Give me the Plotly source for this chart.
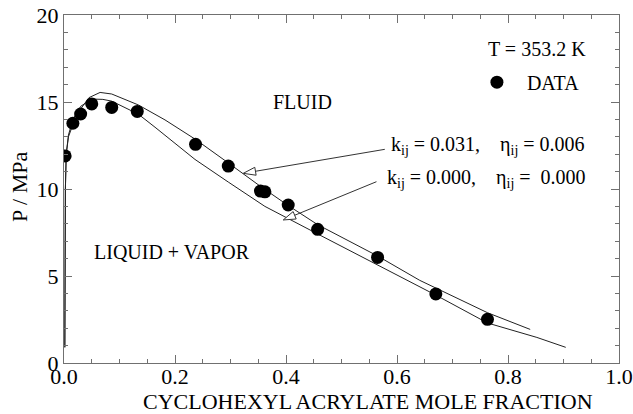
import plotly.graph_objects as go

# Experimental data
x_data = [0.002, 0.016, 0.030, 0.050, 0.086, 0.132, 0.237, 0.296, 0.354, 0.362, 0.404, 0.457, 0.565, 0.670, 0.763]
p_data = [11.9, 13.78, 14.31, 14.89, 14.69, 14.46, 12.57, 11.32, 9.88, 9.84, 9.08, 7.68, 6.07, 3.97, 2.51]

# Model curve kij = 0.031, eta = 0.006
x_fit1 = [0.0015, 0.002, 0.0025, 0.004, 0.008, 0.016, 0.03, 0.045, 0.065, 0.086, 0.134, 0.182, 0.237,
          0.296, 0.354, 0.404, 0.457, 0.565, 0.641, 0.763, 0.84]
p_fit1 = [0.9, 6.0, 10.0, 12.0, 13.0, 13.7, 14.6, 15.25, 15.55, 15.46, 14.83, 13.97, 12.85,
          11.5, 10.15, 9.05, 7.95, 6.15, 4.75, 2.89, 1.93]

# Model curve kij = 0.000, eta = 0.000
x_fit2 = [0.0015, 0.002, 0.0025, 0.004, 0.008, 0.016, 0.03, 0.05, 0.07, 0.086, 0.134, 0.164, 0.236,
          0.296, 0.362, 0.455, 0.55, 0.67, 0.763, 0.852, 0.904]
p_fit2 = [0.9, 6.0, 10.0, 12.0, 13.1, 14.0, 14.75, 15.17, 15.15, 15.05, 14.3, 13.55, 11.7,
          10.4, 9.0, 7.45, 5.9, 3.9, 2.3, 1.47, 0.9]

# Arrow annotations (tail -> tip)
arrow1_x = [0.578, 0.323]
arrow1_y = [12.28, 10.9]
arrow2_x = [0.563, 0.395]
arrow2_y = [10.42, 8.22]

x_ticks = [0.0, 0.2, 0.4, 0.6, 0.8, 1.0]
x_ticklabels = ["0.0", "0.2", "0.4", "0.6", "0.8", "1.0"]
y_ticks = [0, 5, 10, 15, 20]

FONT = "Liberation Serif, Times New Roman, serif"
AX = "#707070"

fig = go.Figure()

fig.add_trace(go.Scatter(x=x_fit1, y=p_fit1, mode="lines", line=dict(color="#222", width=1),
                         showlegend=False, hoverinfo="skip"))
fig.add_trace(go.Scatter(x=x_fit2, y=p_fit2, mode="lines", line=dict(color="#222", width=1),
                         showlegend=False, hoverinfo="skip"))

for ax_, ay_ in [(arrow1_x, arrow1_y), (arrow2_x, arrow2_y)]:
    fig.add_trace(go.Scatter(
        x=ax_, y=ay_, mode="lines+markers",
        line=dict(color="#333", width=1),
        marker=dict(symbol=["circle", "arrow"], size=[1, 13], opacity=[0, 1],
                    angleref="previous", color="white", line=dict(color="#333", width=1)),
        showlegend=False, hoverinfo="skip"))

fig.add_trace(go.Scatter(x=x_data, y=p_data, mode="markers", name="\u00a0\u00a0DATA",
                         marker=dict(color="black", size=13)))

fig.add_annotation(x=0.586, y=12.5, xref="x", yref="y", xanchor="left", yanchor="middle",
                   text="k<sub>ij</sub> = 0.031,\u00a0\u00a0\u00a0 \u03b7<sub>ij</sub> = 0.006",
                   showarrow=False, font=dict(family=FONT, size=20, color="black"))
fig.add_annotation(x=0.578, y=10.63, xref="x", yref="y", xanchor="left", yanchor="middle",
                   text="k<sub>ij</sub> = 0.000,\u00a0\u00a0\u00a0 \u03b7<sub>ij</sub> =\u00a0 0.000",
                   showarrow=False, font=dict(family=FONT, size=20, color="black"))
fig.add_annotation(x=0.43, y=15.0, xref="x", yref="y", text="FLUID", showarrow=False,
                   font=dict(family=FONT, size=20, color="black"))
fig.add_annotation(x=0.195, y=6.38, xref="x", yref="y", text="LIQUID + VAPOR", showarrow=False,
                   font=dict(family=FONT, size=20, color="black"))
fig.add_annotation(x=0.852, y=18.05, xref="x", yref="y", text="T = 353.2 K", showarrow=False,
                   font=dict(family=FONT, size=20, color="black"))

# Axis titles
fig.add_annotation(x=0.548, y=-0.112, xref="paper", yref="paper", xanchor="center", yanchor="middle",
                   text="CYCLOHEXYL ACRYLATE MOLE FRACTION", showarrow=False,
                   font=dict(family=FONT, size=22, color="black"))
fig.add_annotation(x=-0.0793, y=0.506, xref="paper", yref="paper", xanchor="center", yanchor="middle",
                   text="P / MPa", textangle=-90, showarrow=False,
                   font=dict(family=FONT, size=22, color="black"))

axis_common = dict(showline=True, linecolor=AX, linewidth=1, mirror="allticks",
                   ticks="inside", tickcolor=AX, showgrid=False, zeroline=False, automargin=False,
                   tickfont=dict(family=FONT, size=22, color="black"))

fig.update_xaxes(range=[0, 1], tickvals=x_ticks, ticktext=x_ticklabels, ticklen=8,
                 ticklabelstandoff=-6,
                 minor=dict(dtick=0.05, ticks="inside", ticklen=4, tickcolor=AX, showgrid=False),
                 **axis_common)
fig.update_yaxes(range=[0, 20], tickvals=y_ticks, ticklen=8,
                 minor=dict(dtick=1, ticks="inside", ticklen=4, tickcolor=AX, showgrid=False),
                 **axis_common)

fig.update_layout(
    width=633, height=414,
    margin=dict(l=64, r=14, t=15, b=51),
    paper_bgcolor="white", plot_bgcolor="white",
    showlegend=True,
    legend=dict(x=0.744, y=0.807, xanchor="left", yanchor="middle", bgcolor="rgba(0,0,0,0)",
                font=dict(family=FONT, size=20, color="black")),
)

fig.write_html("out.html", config={"displayModeBar": False},
               post_script="document.body.style.margin='0';")
